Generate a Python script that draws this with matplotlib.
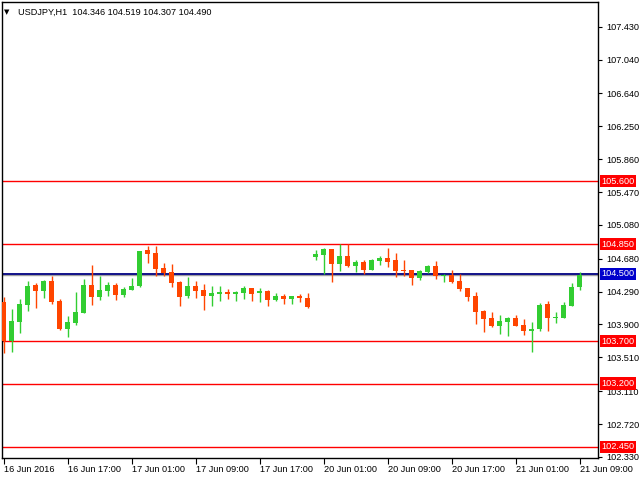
import matplotlib
matplotlib.use("Agg")
import matplotlib.pyplot as plt
import matplotlib.transforms as mtransforms

# USDJPY H1 bars, 16 Jun 2016 09:00 .. 21 Jun 2016 09:00
opens = [104.166, 103.704, 103.933, 104.135, 104.368, 104.301, 104.415, 104.178,
         103.850, 103.921, 104.040, 104.368, 104.229, 104.301, 104.368, 104.253,
         104.308, 104.356, 104.783, 104.747, 104.569, 104.522, 104.403, 104.241,
         104.356, 104.308, 104.241, 104.265, 104.285, 104.265, 104.277, 104.332,
         104.277, 104.297, 104.194, 104.237, 104.206, 104.237, 104.214, 104.704,
         104.724, 104.795, 104.621, 104.712, 104.597, 104.641, 104.550, 104.656,
         104.688, 104.664, 104.546, 104.546, 104.455, 104.526, 104.593, 104.478,
         104.490, 104.415, 104.332, 104.237, 104.063, 103.976, 103.886, 103.933,
         103.976, 103.893, 103.826, 103.850, 104.142, 103.980, 103.980, 104.123,
         104.346]
highs = [104.222, 104.083, 104.202, 104.415, 104.392, 104.427, 104.475, 104.202,
         104.000, 104.285, 104.439, 104.605, 104.475, 104.403, 104.392, 104.344,
         104.451, 104.771, 104.830, 104.830, 104.629, 104.617, 104.415, 104.463,
         104.415, 104.380, 104.356, 104.356, 104.320, 104.297, 104.356, 104.332,
         104.332, 104.308, 104.273, 104.261, 104.237, 104.261, 104.273, 104.783,
         104.807, 104.795, 104.850, 104.850, 104.664, 104.664, 104.676, 104.712,
         104.807, 104.747, 104.664, 104.546, 104.546, 104.605, 104.652, 104.502,
         104.546, 104.502, 104.332, 104.285, 104.075, 104.048, 104.012, 103.988,
         104.012, 103.964, 103.929, 104.154, 104.178, 104.048, 104.166, 104.392,
         104.519]
lows = [103.558, 103.577, 103.803, 104.063, 104.099, 104.218, 104.146, 103.838,
        103.755, 103.897, 104.040, 104.135, 104.194, 104.241, 104.194, 104.229,
        104.308, 104.344, 104.629, 104.475, 104.475, 104.344, 104.123, 104.214,
        104.214, 104.075, 104.123, 104.182, 104.206, 104.182, 104.206, 104.182,
        104.170, 104.123, 104.182, 104.146, 104.146, 104.170, 104.099, 104.668,
        104.502, 104.407, 104.538, 104.585, 104.526, 104.502, 104.550, 104.609,
        104.585, 104.467, 104.478, 104.372, 104.431, 104.514, 104.443, 104.407,
        104.395, 104.301, 104.182, 103.909, 103.814, 103.874, 103.791, 103.767,
        103.886, 103.779, 103.577, 103.826, 103.826, 103.921, 103.980, 104.123,
        104.307]
closes = [103.704, 103.941, 104.142, 104.356, 104.301, 104.415, 104.170, 103.850,
          103.929, 104.048, 104.368, 104.229, 104.308, 104.368, 104.253, 104.320,
          104.356, 104.771, 104.735, 104.558, 104.506, 104.392, 104.229, 104.356,
          104.301, 104.241, 104.273, 104.285, 104.265, 104.285, 104.332, 104.265,
          104.297, 104.194, 104.237, 104.206, 104.237, 104.218, 104.111, 104.735,
          104.795, 104.621, 104.712, 104.597, 104.641, 104.550, 104.664, 104.688,
          104.644, 104.538, 104.538, 104.455, 104.534, 104.593, 104.478, 104.490,
          104.407, 104.324, 104.229, 104.052, 103.968, 103.886, 103.941, 103.976,
          103.886, 103.826, 103.850, 104.131, 103.980, 103.988, 104.131, 104.344,
          104.490]

date_labels = ["16 Jun 2016", "16 Jun 17:00", "17 Jun 01:00", "17 Jun 09:00",
               "17 Jun 17:00", "20 Jun 01:00", "20 Jun 09:00", "20 Jun 17:00",
               "21 Jun 01:00", "21 Jun 09:00"]
price_ticks = [107.430, 107.040, 106.640, 106.250, 105.860, 105.470, 105.080,
               104.680, 104.290, 103.900, 103.510, 103.110, 102.720, 102.330]
red_levels = [105.600, 104.850, 103.700, 103.200, 102.450]
blue_level = 104.500
bid_price = 104.490
title = "USDJPY,H1  104.346 104.519 104.307 104.490"

BULL = "#32CD32"
BEAR = "#FF4500"
FONT = ["Liberation Sans", "DejaVu Sans"]
FS = 6.6

plt.rcParams["font.family"] = FONT

fig = plt.figure(figsize=(6.4, 4.8), dpi=100)
ax = fig.add_axes([2 / 640, 22 / 480, 596 / 640, 456 / 480])

# candles
n = len(opens)
xs = list(range(n))
for i in xs:
    o, h, l, c = opens[i], highs[i], lows[i], closes[i]
    col = BULL if c >= o else BEAR
    ax.vlines(i, l, h, color=col, linewidth=1.0, zorder=3)
    body = max(abs(c - o), 0.008)
    ax.bar(i, body, bottom=min(o, c), width=0.62, color=col, linewidth=0, zorder=4)

# horizontal levels
for lv in red_levels:
    ax.axhline(lv, color="#FF0000", linewidth=1.0, zorder=2)
ax.axhline(bid_price, color="#A0A0A0", linewidth=1.0, zorder=2)
ax.axhline(blue_level, color="#000080", linewidth=1.3, zorder=2)

ax.set_xlim(-0.19, 74.31)
ax.set_ylim(102.317, 107.723)

ax.yaxis.tick_right()
ax.set_yticks(price_ticks)
ax.set_yticklabels(["%.3f" % p for p in price_ticks])
ax.tick_params(axis="y", direction="out", length=3, width=0.8, labelsize=FS, pad=3)

ax.set_xticks(xs[::8])
ax.set_xticklabels(date_labels, ha="left")
ax.tick_params(axis="x", direction="out", length=4, width=0.8, labelsize=FS, pad=1)

for s in ax.spines.values():
    s.set_color("black")
    s.set_linewidth(1.0)

# price boxes on the right axis
trans = mtransforms.blended_transform_factory(ax.transAxes, ax.transData)
for lv in red_levels:
    ax.text(1.006, lv, "%.3f" % lv, transform=trans, ha="left", va="center",
            fontsize=FS, color="white", clip_on=False, zorder=10,
            bbox=dict(facecolor="#FF0000", edgecolor="none", pad=1.2))
ax.text(1.006, blue_level, "%.3f" % blue_level, transform=trans, ha="left", va="center",
        fontsize=FS, color="white", clip_on=False, zorder=10,
        bbox=dict(facecolor="#0000CC", edgecolor="none", pad=1.2))

# header
fig.text(4 / 640, 1 - 12 / 480, "\u25bc", fontsize=5, va="center", ha="left",
         family=["DejaVu Sans"])
fig.text(18 / 640, 1 - 12 / 480, title, fontsize=FS, va="center", ha="left")

fig.savefig("out.png", dpi=100, facecolor="white")
